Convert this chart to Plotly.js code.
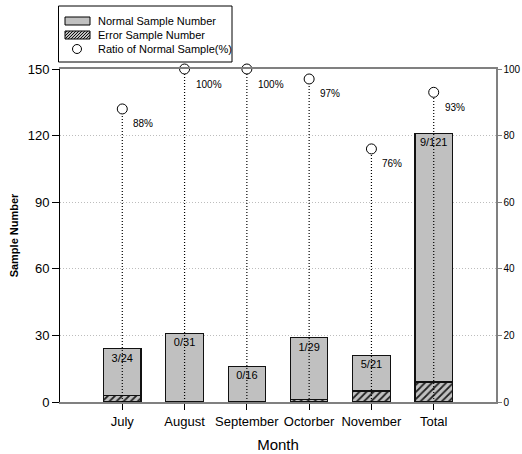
<!DOCTYPE html>
<html>
<head>
<meta charset="utf-8">
<script src="https://cdn.plot.ly/plotly-3.0.1.min.js"></script>
<style>html,body{margin:0;padding:0;background:#fff;}#chart{width:522px;height:454px;}</style>
</head>
<body>
<div id="chart"></div>
<script>
var categories = ["July", "August", "September", "Octorber", "November", "Total"];
var totalSamples = [24, 31, 16, 29, 21, 121];
var errorSamples = [3, 0, 0, 1, 5, 9];
var normalSamples = [21, 31, 16, 28, 16, 112];
var ratioNormal = [88, 100, 100, 97, 76, 93];
var barLabels = ["3/24", "0/31", "0/16", "1/29", "5/21", "9/121"];
var ratioLabels = ["88%", "100%", "100%", "97%", "76%", "93%"];
var legendLabels = ["Normal Sample Number", "Error Sample Number", "Ratio of Normal Sample(%)"];

var FONT = "Liberation Sans, Arial, sans-serif";

var dropX = [], dropY = [];
categories.forEach(function (c, i) {
  dropX.push(c, c, null);
  dropY.push(0, ratioNormal[i], null);
});

var traces = [
  {
    type: "bar", name: legendLabels[1], x: categories, y: errorSamples,
    width: 0.6,
    marker: {
      color: "#c0c0c0",
      line: {color: "#111", width: 1.2},
      pattern: {shape: "/", fgcolor: "#222", bgcolor: "#c0c0c0", size: 5, solidity: 0.35}
    },
    hoverinfo: "skip"
  },
  {
    type: "bar", name: legendLabels[0], x: categories, y: normalSamples,
    width: 0.6,
    marker: {color: "#c0c0c0", line: {color: "#111", width: 1.2}},
    text: barLabels, textposition: "inside", insidetextanchor: "end", textangle: 0,
    constraintext: "none", insidetextfont: {family: FONT, size: 11, color: "#000"},
    hoverinfo: "skip"
  },
  {
    type: "scatter", mode: "lines", x: dropX, y: dropY, yaxis: "y2",
    line: {color: "#000", width: 1.2, dash: "1px,2px"}, hoverinfo: "skip"
  },
  {
    type: "scatter", mode: "markers", name: legendLabels[2], x: categories, y: ratioNormal,
    yaxis: "y2", cliponaxis: false,
    marker: {symbol: "circle", size: 10, color: "#fff", line: {color: "#000", width: 1}}
  }
];

var annotations = categories.map(function (c, i) {
  return {
    x: c, y: ratioNormal[i], xref: "x", yref: "y2", text: ratioLabels[i],
    showarrow: false, xanchor: "left", yanchor: "middle", xshift: 9, yshift: -15,
    font: {family: FONT, size: 10, color: "#000"}
  };
});

// ---- hand-drawn legend (pixel offsets from the plot's top-left corner) ----
function pxShape(o) {
  o.xref = "paper"; o.yref = "paper"; o.xsizemode = "pixel"; o.ysizemode = "pixel";
  o.xanchor = 0; o.yanchor = 1;
  return o;
}
var shapes = [];
shapes.push(pxShape({type: "rect", x0: -1.5, x1: 172, y0: 7, y1: 63,
  line: {color: "#000", width: 1}, fillcolor: "#fff"}));
shapes.push(pxShape({type: "rect", x0: 5, x1: 30, y0: 44, y1: 52,
  line: {color: "#000", width: 1}, fillcolor: "#c0c0c0"}));
shapes.push(pxShape({type: "rect", x0: 5, x1: 30, y0: 30, y1: 38,
  line: {color: "#000", width: 1}, fillcolor: "#c0c0c0"}));
var hatch = "";
for (var k = -4; k < 30; k += 3) {
  var xa = k, ya = 30, xb = k + 8, yb = 38;
  if (xa < 5) { ya += (5 - xa); xa = 5; }
  if (xb > 30) { yb -= (xb - 30); xb = 30; }
  if (ya < yb) hatch += "M" + xa + "," + ya + "L" + xb + "," + yb;
}
shapes.push(pxShape({type: "path", path: hatch, line: {color: "#111", width: 1}}));
shapes.push(pxShape({type: "circle", x0: 12.5, x1: 21.5, y0: 15.5, y1: 24.5,
  line: {color: "#000", width: 1}, fillcolor: "#fff"}));
var legendRowsY = [48, 34, 20];
legendLabels.forEach(function (t, i) {
  annotations.push({
    x: 0, y: 1, xref: "paper", yref: "paper", text: t, showarrow: false,
    xanchor: "left", yanchor: "middle", xshift: 36, yshift: legendRowsY[i],
    font: {family: FONT, size: 11, color: "#000"}
  });
});

var layout = {
  width: 522, height: 454,
  margin: {l: 60, r: 26, t: 69, b: 52},
  paper_bgcolor: "#fff", plot_bgcolor: "#fff",
  font: {family: FONT, color: "#000"},
  barmode: "stack",
  showlegend: false,
  xaxis: {
    type: "category", range: [-1, 6],
    showline: true, linecolor: "#808080", linewidth: 2, mirror: true,
    ticks: "outside", ticklen: 6, tickcolor: "#000", tickwidth: 1,
    tickfont: {family: FONT, size: 13}, showgrid: false, zeroline: false,
    title: {text: "Month", font: {family: FONT, size: 15}, standoff: 12}
  },
  yaxis: {
    range: [0, 150], tickvals: [0, 30, 60, 90, 120, 150],
    showline: true, linecolor: "#000", linewidth: 1,
    ticks: "outside", ticklen: 7, tickcolor: "#000",
    tickfont: {family: FONT, size: 13},
    showgrid: true, gridcolor: "#bdbdbd", griddash: "1px,2px", gridwidth: 1, zeroline: false,
    title: {text: "<b>Sample Number</b>", font: {family: FONT, size: 11}, standoff: 6}
  },
  yaxis2: {
    overlaying: "y", side: "right", range: [0, 100], tickvals: [0, 20, 40, 60, 80, 100],
    showline: true, linecolor: "#808080", linewidth: 1.5,
    ticks: "outside", ticklen: 4, tickcolor: "#808080",
    tickfont: {family: FONT, size: 10}, showgrid: false, zeroline: false
  },
  shapes: shapes,
  annotations: annotations
};

Plotly.newPlot("chart", traces, layout, {displayModeBar: false, staticPlot: true});
</script>
</body>
</html>
